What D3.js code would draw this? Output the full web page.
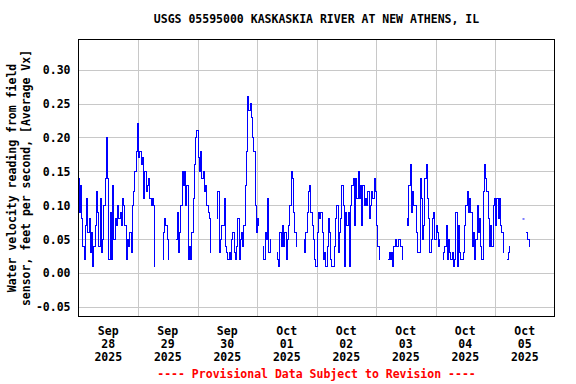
<!DOCTYPE html>
<html>
<head>
<meta charset="utf-8">
<script src="https://cdn.jsdelivr.net/npm/d3@7"></script>
<style>
  html, body { margin: 0; padding: 0; background: #fff; }
  svg { display: block; }
  text { font-family: "DejaVu Sans Mono", monospace; font-weight: bold; font-size: 11.5px; fill: #000; }
</style>
</head>
<body>
<div id="chart"></div>
<script>
// --- Chart data (half-hourly readings, ft/s; null = no data) ---
const sep28 = [0.14,0.09,0.13,0.08,0.04,0.02,0.07,0.11, 0.06,0.08,0.03,0.06,0.01,0.04,0.07,0.12,
               0.09,0.04,0.11,0.03,0.05,0.10,0.14,0.20, 0.14,0.02,0.09,0.02,0.13,0.05,0.08,0.07,
               0.10,0.08,0.09,0.07,0.11,0.10,0.07,0.02, 0.05,0.04,0.06,0.03,0.10,0.12,0.15,0.18];
const sep29 = [0.22,0.17,0.18,0.16,0.17,0.11,0.15,0.12, 0.13,0.14,0.11,0.10,0.11,0.10,0.01,null,
               null,null,null,null,0.02,0.06,0.08,0.07, 0.05,0.02,null,null,null,null,null,0.05,
               0.09,0.03,0.06,0.10,0.15,0.13,0.15,0.10, 0.13,0.02,0.04,0.02,0.06,0.11,0.16,0.20];
const sep30 = [0.21,0.17,0.15,0.18,0.14,0.15,0.12,0.13, 0.10,0.09,0.08,0.03,null,null,null,null,
               0.08,0.12,0.03,0.05,0.07,0.07,0.11,0.04, 0.03,0.02,0.03,0.02,0.05,0.06,0.03,0.02,
               0.04,0.08,0.02,0.05,0.06,0.04,0.07,0.13, 0.18,0.26,0.24,0.25,0.23,0.20,0.18,0.10];
const oct01 = [0.06,0.08,0.07,null,null,0.04,0.02,0.06, 0.05,0.11,0.03,0.05,null,null,null,null,
               0.03,0.02,0.01,0.06,0.04,0.07,0.04,0.06, 0.02,0.05,0.07,0.10,0.15,0.14,0.09,0.06,
               0.04,null,null,null,null,null,0.05,0.03, 0.06,0.09,0.12,0.13,0.09,0.07,0.05,0.02];
const oct02 = [0.01,0.06,0.09,0.08,0.09,0.06,0.02,0.03, 0.01,0.04,0.08,0.06,0.02,0.01,0.01,0.04,
               0.08,0.10,0.03,0.06,0.08,0.13,0.10,0.01, 0.09,0.07,0.09,0.01,0.10,0.13,0.14,0.07,
               0.14,0.11,0.15,0.11,0.13,0.07,0.13,0.10, 0.11,0.10,0.12,0.08,0.10,0.12,0.11,0.14];
const oct03 = [0.12,0.07,0.04,0.02,null,null,null,null, null,null,0.02,0.03,0.02,0.03,0.01,0.04,
               0.05,0.04,0.04,0.05,0.04,0.04,0.02,null, null,0.08,0.07,0.13,0.16,0.09,0.12,0.10,
               0.10,0.06,0.03,0.03,0.14,0.11,0.05,0.07, 0.14,0.16,0.11,0.08,0.03,0.05,0.08,0.09];
const oct04 = [0.05,0.07,0.06,0.04,0.05,null,0.02,0.03, 0.04,0.07,0.02,0.05,0.03,0.02,0.03,0.01,
               0.02,0.09,0.01,0.07,0.03,0.02,0.02,0.03, 0.07,0.10,0.12,0.09,0.11,0.09,0.04,0.06,
               0.02,0.05,0.10,0.06,0.08,0.04,0.02,0.12, 0.16,0.14,0.12,0.08,0.04,0.07,0.04,0.10];
const oct05 = [0.11,0.07,0.11,0.08,0.11,0.07,0.06,0.03, null,null,0.02,0.03,0.04,null,null,null,
               null,null,null,null,null,null,null,0.08, null,0.06,0.06,0.05,0.04,null,null,null,
               null,null,null,null,null,null,null,null, null,null,null,null,null,null,null,null];

const dailyValues = [sep28, sep29, sep30, oct01, oct02, oct03, oct04, oct05];

// --- Tick labels ---
const monthLabels = ["Sep", "Sep", "Sep", "Oct", "Oct", "Oct", "Oct", "Oct"];
const dayLabels   = ["28", "29", "30", "01", "02", "03", "04", "05"];
const yearLabels  = ["2025", "2025", "2025", "2025", "2025", "2025", "2025", "2025"];
const yTicks      = [-0.05, 0.00, 0.05, 0.10, 0.15, 0.20, 0.25, 0.30];

const titleText  = "USGS 05595000 KASKASKIA RIVER AT NEW ATHENS, IL";
const yLabelText = ["Water velocity reading from field", "sensor, feet per second, [Average Vx]"];
const footerText = "---- Provisional Data Subject to Revision ----";

// --- Dimensions ---
const W = 576, H = 384;
const margin = { top: 39.5, right: 21.5, bottom: 67.5, left: 78.5 };
const innerW = W - margin.left - margin.right;
const innerH = H - margin.top - margin.bottom;

const start = new Date(2025, 8, 28);
const end = d3.timeDay.offset(start, dailyValues.length);

// flatten the day arrays into {t, v} records, 30 min apart
const series = dailyValues.flatMap((day, di) =>
  day.map((v, i) => ({ t: d3.timeMinute.offset(d3.timeDay.offset(start, di), i * 30), v }))
);

const x = d3.scaleTime().domain([start, end]).range([0, innerW]);
const y = d3.scaleLinear().domain([-0.0636, 0.3443]).range([innerH, 0]);

const svg = d3.select("#chart").append("svg")
  .attr("width", W)
  .attr("height", H);

const g = svg.append("g")
  .attr("transform", `translate(${margin.left},${margin.top})`);

// --- Grid ---
const midnights = d3.timeDay.range(d3.timeDay.offset(start, 1), end);

g.append("g")
  .attr("class", "x-grid")
  .attr("transform", `translate(0,${innerH})`)
  .call(d3.axisBottom(x).tickValues(midnights).tickSize(-innerH).tickFormat(""))
  .call(s => s.select(".domain").remove())
  .call(s => s.selectAll("line").attr("stroke", "#c8c8c8").attr("shape-rendering", "crispEdges"));

g.append("g")
  .attr("class", "y-grid")
  .call(d3.axisLeft(y).tickValues(yTicks).tickSize(-innerW).tickPadding(8).tickFormat(d => d.toFixed(2)))
  .call(s => s.select(".domain").remove())
  .call(s => s.selectAll("line").attr("stroke", "#c8c8c8").attr("shape-rendering", "crispEdges"))
  .call(s => s.selectAll("text")
    .attr("fill", "#000")
    .style("font-family", "'DejaVu Sans Mono', monospace")
    .style("font-weight", "bold")
    .style("font-size", "11.5px"));

// --- Data line ---
const line = d3.line()
  .defined(d => d.v !== null)
  .x(d => x(d.t))
  .y(d => y(d.v))
  .curve(d3.curveStep);

g.append("path")
  .datum(series)
  .attr("fill", "none")
  .attr("stroke", "#0000ff")
  .attr("stroke-width", 1)
  .attr("shape-rendering", "crispEdges")
  .attr("d", line);

// lone readings with no neighbours would not show as a path
const lone = series.filter((d, i) =>
  d.v !== null &&
  (i === 0 || series[i - 1].v === null) &&
  (i === series.length - 1 || series[i + 1].v === null));

g.selectAll("rect.lone")
  .data(lone)
  .join("rect")
  .attr("class", "lone")
  .attr("x", d => x(d.t) - 1)
  .attr("y", d => y(d.v) - 0.5)
  .attr("width", 2)
  .attr("height", 1)
  .attr("fill", "#0000ff");

// --- Frame ---
g.append("rect")
  .attr("width", innerW)
  .attr("height", innerH)
  .attr("fill", "none")
  .attr("stroke", "#000")
  .attr("shape-rendering", "crispEdges");

// --- X labels (noon of each day) ---
const xLab = g.append("g").attr("class", "x-labels")
  .selectAll("text")
  .data(monthLabels.map((m, i) => ({ m, d: dayLabels[i], yr: yearLabels[i], t: d3.timeHour.offset(d3.timeDay.offset(start, i), 12) })))
  .join("text")
  .attr("text-anchor", "middle")
  .attr("transform", d => `translate(${x(d.t)},${innerH + 18})`);

xLab.append("tspan").attr("x", 0).attr("y", 0).text(d => d.m);
xLab.append("tspan").attr("x", 0).attr("y", 13).text(d => d.d);
xLab.append("tspan").attr("x", 0).attr("y", 26).text(d => d.yr);

// --- Title, axis title, footer ---
svg.append("text")
  .attr("x", margin.left + innerW / 2)
  .attr("y", 23)
  .attr("text-anchor", "middle")
  .text(titleText);

svg.append("text")
  .attr("transform", `translate(16,${margin.top + innerH / 2}) rotate(-90)`)
  .attr("text-anchor", "middle")
  .selectAll("tspan")
  .data(yLabelText)
  .join("tspan")
  .attr("x", 0)
  .attr("dy", (d, i) => i === 0 ? 0 : 13.5)
  .text(d => d);

svg.append("text")
  .attr("x", margin.left + innerW / 2)
  .attr("y", 378)
  .attr("text-anchor", "middle")
  .style("fill", "#ff0000")
  .text(footerText);
</script>
</body>
</html>
